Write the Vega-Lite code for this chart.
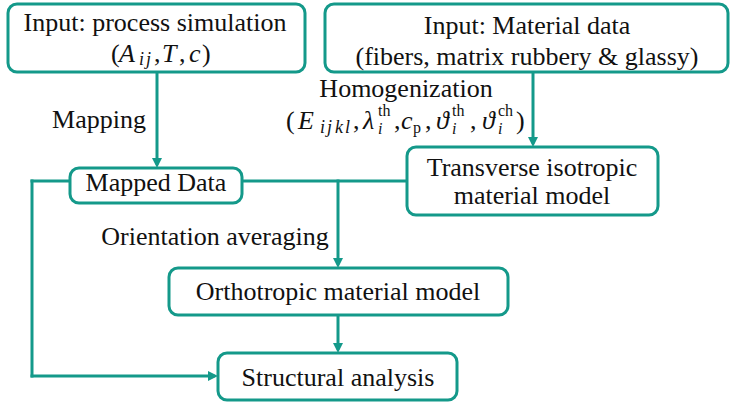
{
  "$schema": "https://vega.github.io/schema/vega-lite/v6.json",
  "width": 731,
  "height": 403,
  "padding": 0,
  "autosize": {"type": "fit", "contains": "padding"},
  "background": "white",
  "config": {"view": {"stroke": null}, "text": {"font": "'Liberation Serif', 'DejaVu Serif', serif"}},
  "datasets": {
    "boxes": [
      {"id": "sim", "x": 8, "x2": 305, "y": 4, "y2": 72},
      {"id": "mat", "x": 325, "x2": 728, "y": 4, "y2": 72},
      {"id": "mapped", "x": 70, "x2": 242, "y": 168, "y2": 203},
      {"id": "trans", "x": 407, "x2": 658, "y": 147, "y2": 215},
      {"id": "ortho", "x": 169, "x2": 508, "y": 268, "y2": 315},
      {"id": "struct", "x": 218, "x2": 457, "y": 353, "y2": 400}
    ],
    "edges": [
      {"x": 157, "y": 72, "x2": 157, "y2": 163},
      {"x": 533, "y": 72, "x2": 533, "y2": 142},
      {"x": 242, "y": 181, "x2": 407, "y2": 181},
      {"x": 338, "y": 181, "x2": 338, "y2": 263},
      {"x": 338, "y": 315, "x2": 338, "y2": 348},
      {"x": 70, "y": 181, "x2": 32, "y2": 181},
      {"x": 32, "y": 181, "x2": 32, "y2": 376},
      {"x": 32, "y": 376, "x2": 213, "y2": 376}
    ],
    "arrows": [
      {"x": 157, "y": 168, "dir": "down"},
      {"x": 533, "y": 147, "dir": "down"},
      {"x": 338, "y": 268, "dir": "down"},
      {"x": 338, "y": 353, "dir": "down"},
      {"x": 218, "y": 376, "dir": "right"}
    ],
    "texts": [
      {"t": "Input: process simulation", "x": 155, "y": 23, "kind": "text"},
      {"t": "Input: Material data", "x": 527, "y": 26, "kind": "text"},
      {"t": "(fibers, matrix rubbery & glassy)", "x": 527, "y": 57, "kind": "text"},
      {"t": "Mapping", "x": 99, "y": 120, "kind": "text"},
      {"t": "Homogenization", "x": 406, "y": 89, "kind": "text"},
      {"t": "Mapped Data", "x": 156, "y": 183, "kind": "text"},
      {"t": "Transverse isotropic", "x": 532, "y": 168, "kind": "text"},
      {"t": "material model", "x": 532, "y": 196, "kind": "text"},
      {"t": "Orientation averaging", "x": 215, "y": 237, "kind": "text"},
      {"t": "Orthotropic material model", "x": 338, "y": 292, "kind": "text"},
      {"t": "Structural analysis", "x": 338, "y": 378, "kind": "text"},

      {"t": "(", "x": 111, "y": 54, "kind": "punct"},
      {"t": "A", "x": 119, "y": 54, "kind": "sym"},
      {"t": "i", "x": 139, "y": 60, "kind": "index"},
      {"t": "j", "x": 146, "y": 60, "kind": "index"},
      {"t": ",", "x": 154, "y": 54, "kind": "punct"},
      {"t": "T", "x": 162, "y": 54, "kind": "sym"},
      {"t": ",", "x": 179, "y": 54, "kind": "punct"},
      {"t": "c", "x": 189, "y": 54, "kind": "sym"},
      {"t": ")", "x": 202, "y": 54, "kind": "punct"},

      {"t": "(", "x": 286, "y": 121, "kind": "punct"},
      {"t": "E", "x": 298, "y": 121, "kind": "sym"},
      {"t": "i", "x": 320, "y": 128, "kind": "index"},
      {"t": "j", "x": 327, "y": 128, "kind": "index"},
      {"t": "k", "x": 335, "y": 128, "kind": "index"},
      {"t": "l", "x": 345, "y": 128, "kind": "index"},
      {"t": ",", "x": 353, "y": 121, "kind": "punct"},
      {"t": "λ", "x": 363, "y": 121, "kind": "sym"},
      {"t": "th", "x": 378, "y": 111, "kind": "script"},
      {"t": "i", "x": 378, "y": 129, "kind": "subit"},
      {"t": ",", "x": 394, "y": 121, "kind": "punct"},
      {"t": "c", "x": 401, "y": 121, "kind": "sym"},
      {"t": "p", "x": 413, "y": 128, "kind": "script"},
      {"t": ",", "x": 425, "y": 121, "kind": "punct"},
      {"t": "ϑ", "x": 436, "y": 121, "kind": "sym"},
      {"t": "th", "x": 452, "y": 111, "kind": "script"},
      {"t": "i", "x": 452, "y": 129, "kind": "subit"},
      {"t": ",", "x": 470, "y": 121, "kind": "punct"},
      {"t": "ϑ", "x": 482, "y": 121, "kind": "sym"},
      {"t": "ch", "x": 498, "y": 111, "kind": "script"},
      {"t": "i", "x": 498, "y": 129, "kind": "subit"},
      {"t": ")", "x": 516, "y": 121, "kind": "punct"}
    ]
  },
  "encoding": {
    "x": {"field": "x", "type": "quantitative", "axis": null,
          "scale": {"domain": [0, 731], "nice": false, "zero": false}},
    "y": {"field": "y", "type": "quantitative", "axis": null,
          "scale": {"domain": [0, 403], "nice": false, "zero": false, "reverse": true}}
  },
  "layer": [
    {
      "data": {"name": "edges"},
      "mark": {"type": "rule", "color": "#14998a", "strokeWidth": 3, "strokeCap": "square"},
      "encoding": {"x2": {"field": "x2"}, "y2": {"field": "y2"}}
    },
    {
      "data": {"name": "arrows"},
      "mark": {"type": "point", "filled": true, "color": "#14998a", "opacity": 1, "size": 100, "strokeWidth": 0},
      "encoding": {
        "shape": {"field": "dir", "type": "nominal", "legend": null,
                  "scale": {"domain": ["down", "right"], "range": ["M0,0L-1,-2L1,-2Z", "M0,0L-2,-1L-2,1Z"]}}
      }
    },
    {
      "data": {"name": "boxes"},
      "mark": {"type": "rect", "fill": "white", "stroke": "#14998a", "strokeWidth": 3, "cornerRadius": 9},
      "encoding": {"x2": {"field": "x2"}, "y2": {"field": "y2"}}
    },
    {
      "data": {"name": "texts"},
      "transform": [{"filter": "datum.kind === 'text'"}],
      "mark": {"type": "text", "font": "'Liberation Serif', 'DejaVu Serif', serif", "fontSize": 26, "color": "#111111", "align": "center", "baseline": "middle"},
      "encoding": {"text": {"field": "t"}}
    },
    {
      "data": {"name": "texts"},
      "transform": [{"filter": "datum.kind === 'punct'"}],
      "mark": {"type": "text", "font": "'Liberation Serif', 'DejaVu Serif', serif", "fontSize": 26, "color": "#111111", "align": "left", "baseline": "middle"},
      "encoding": {"text": {"field": "t"}}
    },
    {
      "data": {"name": "texts"},
      "transform": [{"filter": "datum.kind === 'sym'"}],
      "mark": {"type": "text", "font": "'Liberation Serif', 'DejaVu Serif', serif", "fontStyle": "italic", "fontSize": 26, "color": "#111111", "align": "left", "baseline": "middle"},
      "encoding": {"text": {"field": "t"}}
    },
    {
      "data": {"name": "texts"},
      "transform": [{"filter": "datum.kind === 'index'"}],
      "mark": {"type": "text", "font": "'Liberation Serif', 'DejaVu Serif', serif", "fontStyle": "italic", "fontSize": 18, "color": "#111111", "align": "left", "baseline": "middle"},
      "encoding": {"text": {"field": "t"}}
    },
    {
      "data": {"name": "texts"},
      "transform": [{"filter": "datum.kind === 'subit'"}],
      "mark": {"type": "text", "font": "'Liberation Serif', 'DejaVu Serif', serif", "fontStyle": "italic", "fontSize": 16, "color": "#111111", "align": "left", "baseline": "middle"},
      "encoding": {"text": {"field": "t"}}
    },
    {
      "data": {"name": "texts"},
      "transform": [{"filter": "datum.kind === 'script'"}],
      "mark": {"type": "text", "font": "'Liberation Serif', 'DejaVu Serif', serif", "fontSize": 16, "color": "#111111", "align": "left", "baseline": "middle"},
      "encoding": {"text": {"field": "t"}}
    }
  ]
}
